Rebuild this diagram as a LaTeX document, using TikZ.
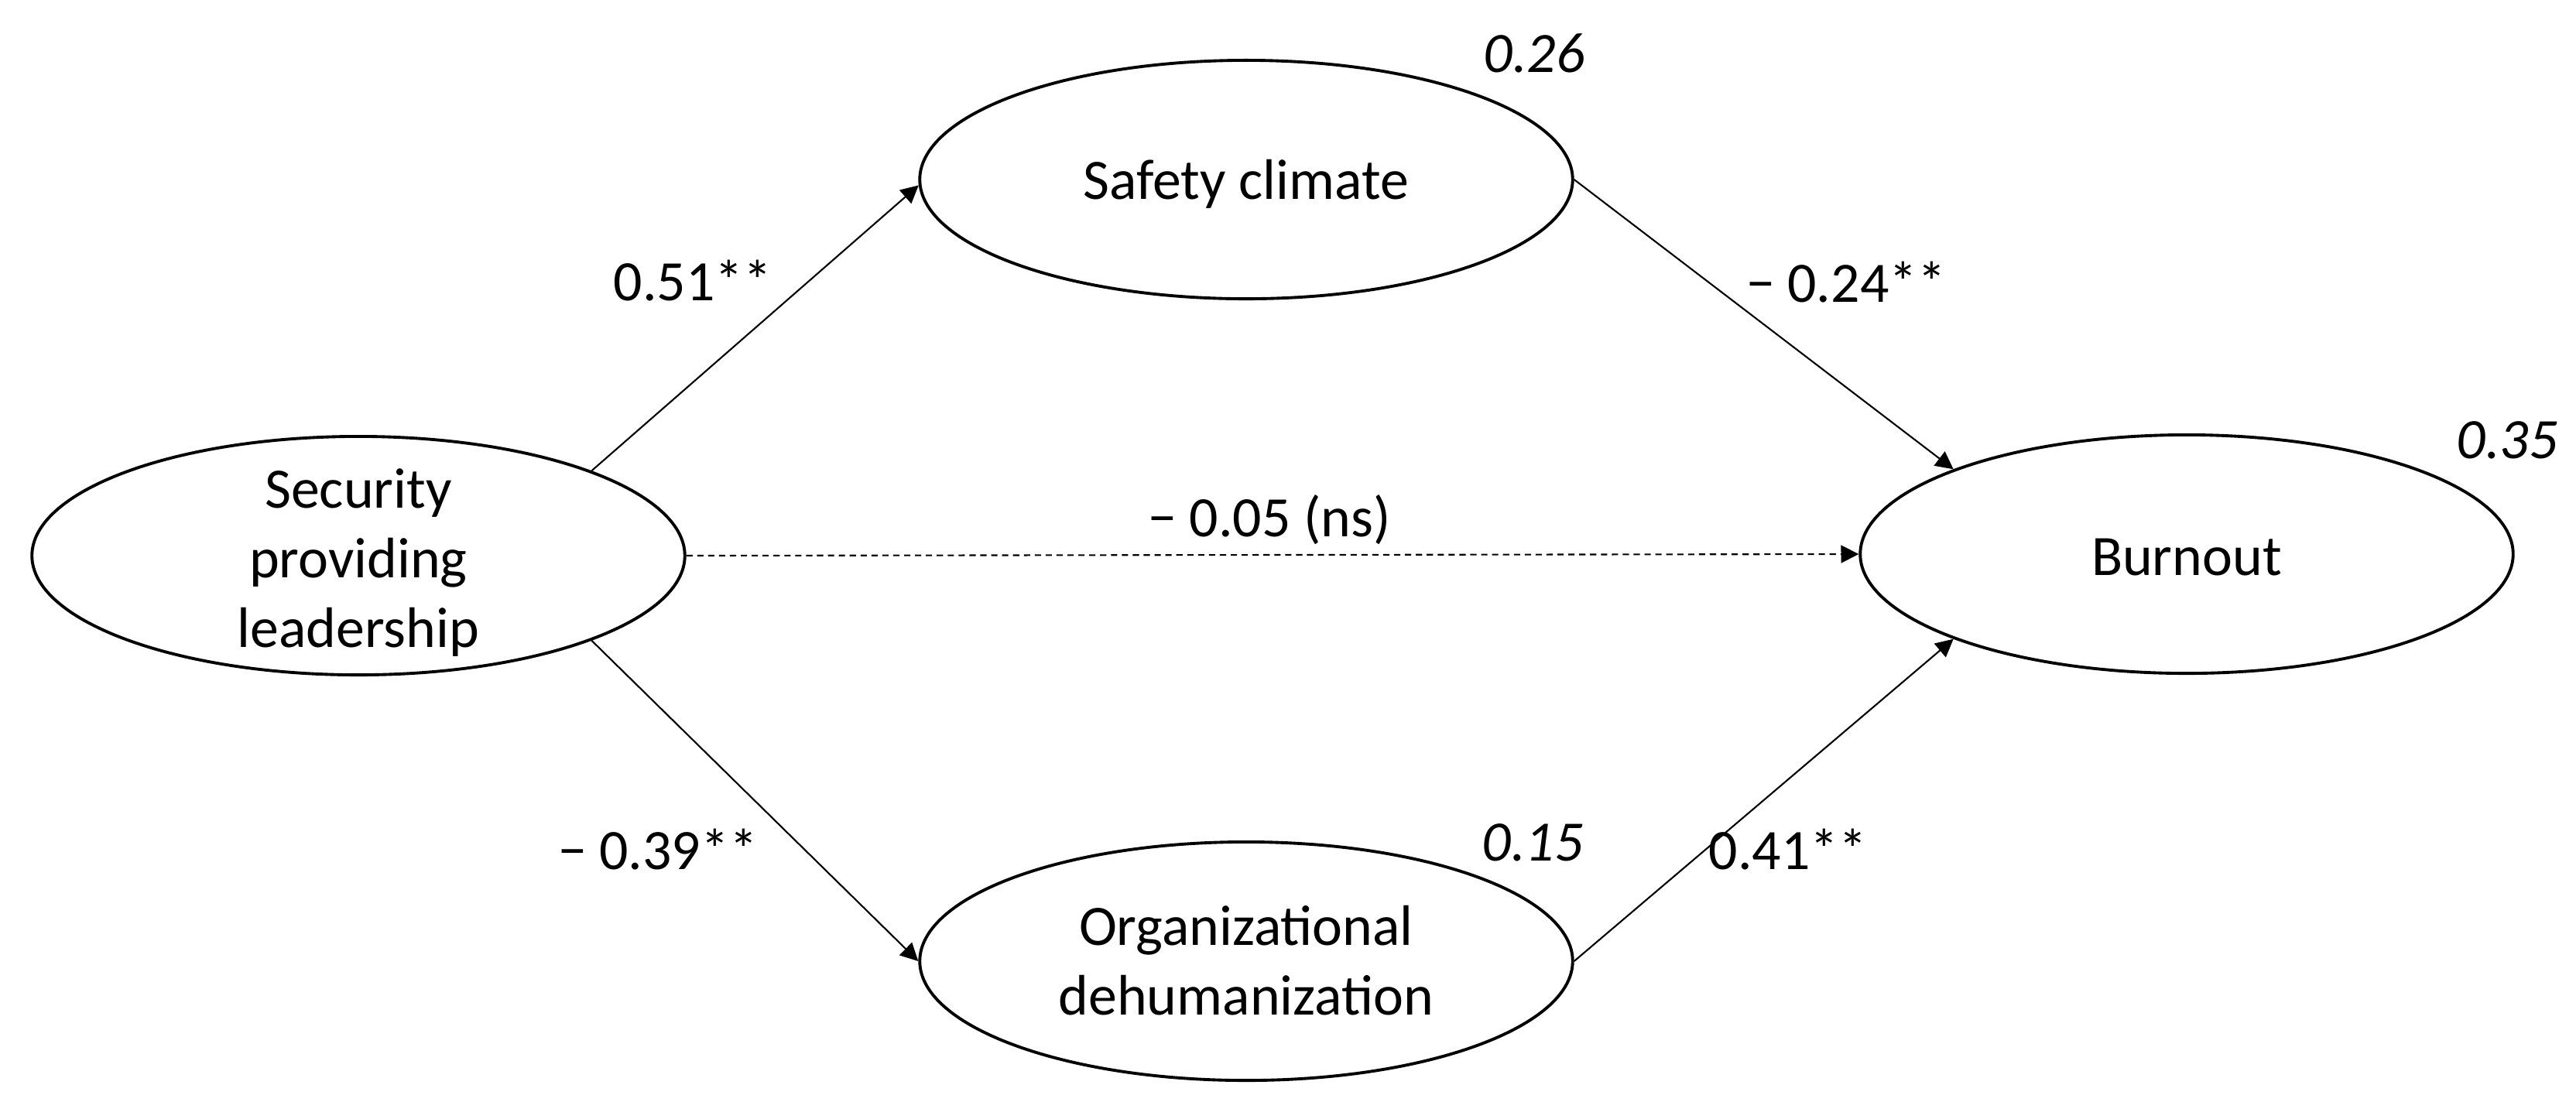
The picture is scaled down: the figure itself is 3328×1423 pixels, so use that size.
\documentclass[tikz,border=0pt]{standalone}
\usepackage{fontspec}
\setmainfont{Carlito}
\usetikzlibrary{shapes.geometric,arrows.meta}
\begin{document}
\begin{tikzpicture}[x=0.01cm,y=-0.01cm,
  every node/.style={font=\fontsize{21}{25.5}\selectfont},
  latent/.style={ellipse, draw, line width=1.1pt, minimum width=8.43cm, minimum height=3.08cm, inner sep=0pt},
  lbl/.style={align=center, inner sep=0pt},
  path/.style={line width=0.6pt, -{Triangle[length=6.5pt,width=6.5pt]}},
  nspath/.style={path, dash pattern=on 2.3pt off 1.7pt},
  coef/.style={inner sep=0pt, anchor=base},
  rsq/.style={inner sep=0pt, anchor=base, font=\fontsize{21}{25.5}\selectfont\itshape}]
\useasboundingbox (0,0) rectangle (3328,1423);
\node[latent] (spl) at (463,718) {};
\node[latent] (sc) at (1610,232) {};
\node[latent] (od) at (1610,1242) {};
\node[latent] (bo) at (2825,716) {};
\node[lbl] (splt) at (463,727) {Security\\providing\\leadership};
\node[lbl, anchor=base] (sct) at (1610,257) {Safety climate};
\node[lbl] (odt) at (1610,1241) {Organizational\\dehumanization};
\node[lbl, anchor=base] (bot) at (2825,743) {Burnout};
\draw[path] (spl.20) -- (sc.181);
\draw[path] (sc.east) -- (bo.160);
\draw[path] (spl.-20) -- (od.west);
\draw[path] (od.east) -- (bo.200);
\draw[nspath] (spl.east) -- (bo.west);
\node[coef] (c51) at (895,388) {0.51**};
\node[coef] (c24) at (2385,390) {− 0.24**};
\node[coef] (c05) at (1640,693) {− 0.05 (ns)};
\node[coef] (c39) at (850,1123) {− 0.39**};
\node[coef] (c41) at (2310,1123) {0.41**};
\node[rsq] (r26) at (1982,93) {0.26};
\node[rsq] (r15) at (1980,1112) {0.15};
\node[rsq] (r35) at (3239,592) {0.35};
\end{tikzpicture}
\end{document}
